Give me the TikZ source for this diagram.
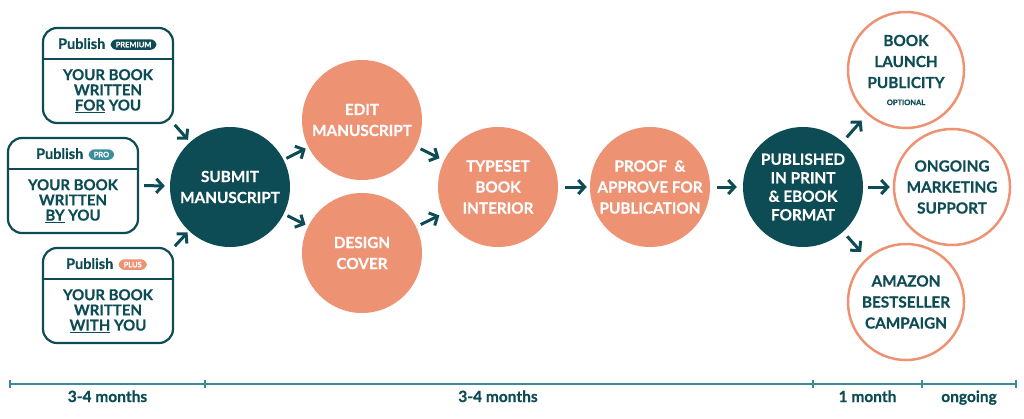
\documentclass[tikz,border=0pt]{standalone}
\usepackage{fontspec}
\setmainfont{Lato}[BoldFeatures={FakeBold=0.5}]
\usetikzlibrary{arrows.meta,calc}
\definecolor{dteal}{HTML}{0E4C55}
\definecolor{salmon}{HTML}{EE9274}
\definecolor{mteal}{HTML}{3A8C9B}
\definecolor{proteal}{HTML}{3D8E9C}
\newcommand\cfnt{\fontsize{15.3}{21}\selectfont\bfseries}
\newcommand\bfnt{\fontsize{15}{15.2}\selectfont\bfseries}
\newcommand\pfnt{\fontsize{14.5}{15}\selectfont\bfseries}
\newcommand\tfnt{\fontsize{7.5}{8}\selectfont\bfseries}
\newcommand\lfnt{\fontsize{15.5}{16}\selectfont\bfseries}
\begin{document}
\begin{tikzpicture}[x=1pt,y=-1pt,
 fillc/.style={circle,minimum size=120pt,inner sep=0pt,fill=#1,text=white,align=center,font=\cfnt},
 ringc/.style={circle,minimum size=116pt,inner sep=0pt,draw=salmon,line width=2.5pt,text=dteal,align=center,font=\cfnt},
 pbox/.style={draw=dteal,line width=2.2pt,rounded corners=14pt,minimum width=130pt,minimum height=95pt,inner sep=0pt},
 divline/.style={draw=dteal,line width=2.2pt},
 body/.style={text=dteal,align=center,font=\bfnt,inner sep=0pt},
 pub/.style={text=dteal,font=\pfnt,inner sep=0pt,anchor=base west},
 tag/.style={fill=#1,text=white,rounded corners=6pt,font=\tfnt,inner xsep=5pt,inner ysep=2.5pt,anchor=west},
 arr/.style={draw=dteal,line width=3pt,-{Straight Barb[length=6.5pt,width=14pt]}},
 tl/.style={draw=mteal,line width=1.6pt},
 tlab/.style={text=dteal,font=\lfnt,anchor=base,inner sep=0pt}
]
\path[fill=white,use as bounding box] (0,0) rectangle (1024,418);

% boxes
\node[pbox] (prem) at (108,75.5) {};
\node[pbox] (pro) at (73,185.5) {};
\node[pbox] (plus) at (108,295.5) {};
\foreach \b in {prem,pro,plus}
  \draw[divline] ($(\b.north west)+(0,32)$) -- ($(\b.north east)+(0,32)$);

\node[pub] (premp) at ($(prem.north west)+(16,22)$) {Publish};
\node[tag=dteal] (premt) at ($(premp.east)+(5,1)$) {PREMIUM};
\node[pub] (prop) at ($(pro.north west)+(29,22)$) {Publish};
\node[tag=proteal] (prot) at ($(prop.east)+(5,1)$) {PRO};
\node[pub] (plusp) at ($(plus.north west)+(24,22)$) {Publish};
\node[tag=salmon] (plust) at ($(plusp.east)+(5,1)$) {PLUS};

\node[body] (premb) at ($(prem.north)+(0,64)$) {YOUR BOOK\\WRITTEN\\\underline{FOR} YOU};
\node[body] (prob) at ($(pro.north)+(0,64)$) {YOUR BOOK\\WRITTEN\\\underline{BY} YOU};
\node[body] (plusb) at ($(plus.north)+(0,64)$) {YOUR BOOK\\WRITTEN\\\underline{WITH} YOU};

% circles
\node[fillc=dteal] (sub) at (230,187) {SUBMIT\\MANUSCRIPT};
\node[fillc=salmon] (edit) at (362,120) {EDIT\\MANUSCRIPT};
\node[fillc=salmon] (cover) at (362,253) {DESIGN\\COVER};
\node[fillc=salmon] (type) at (498,187) {TYPESET\\BOOK\\INTERIOR};
\node[fillc=salmon] (proof) at (650,187) {PROOF\ \ \&\\APPROVE FOR\\PUBLICATION};
\node[fillc=dteal,font=\fontsize{15.3}{18.5}\selectfont\bfseries] (pubd) at (803,187) {PUBLISHED\\IN PRINT\\\& EBOOK\\FORMAT};
\node[ringc] (launch) at (906,70) {BOOK\\LAUNCH\\PUBLICITY\\[-4pt]{\tfnt OPTIONAL}};
\node[ringc] (ongo) at (952,187) {ONGOING\\MARKETING\\SUPPORT};
\node[ringc] (amz) at (906,302) {AMAZON\\BESTSELLER\\CAMPAIGN};

% arrows
\draw[arr,shorten <=1pt,shorten >=3pt] (prem.south east) -- (sub);
\draw[arr,shorten <=5pt,shorten >=5pt] (pro.east) -- (sub);
\draw[arr,shorten <=1pt,shorten >=2pt] (plus.north east) -- (sub);
\draw[arr,shorten <=3pt,shorten >=3pt] (sub) -- (edit);
\draw[arr,shorten <=4pt,shorten >=3pt] (sub) -- (cover);
\draw[arr,shorten <=5pt,shorten >=5pt] (edit) -- (type);
\draw[arr,shorten <=5pt,shorten >=5pt] (cover) -- (type);
\draw[arr,shorten <=7pt,shorten >=3pt] (type) -- (proof);
\draw[arr,shorten <=7pt,shorten >=6pt] (proof) -- (pubd);
\draw[arr,shorten <=6pt,shorten >=8pt] (pubd) -- (launch);
\draw[arr,shorten <=5pt,shorten >=3pt] (pubd) -- (ongo);
\draw[arr,shorten <=6pt,shorten >=8pt] (pubd) -- (amz);

% timeline
\coordinate (t0) at (10,384);
\coordinate (t1) at (205,384);
\coordinate (t2) at (813,384);
\coordinate (t3) at (922,384);
\coordinate (t4) at (1016,384);
\draw[tl] (t0) -- (t4);
\foreach \t in {t0,t1,t2,t3,t4}
  \draw[tl] ($(\t)+(0,-4)$) -- ($(\t)+(0,4)$);
\node[tlab] (l1) at ($($(t0)!0.5!(t1)$)+(0,18)$) {3-4 months};
\node[tlab] (l2) at ($($(t1)!0.5!(t2)$)+(-11,18)$) {3-4 months};
\node[tlab] (l3) at ($($(t2)!0.5!(t3)$)+(0,18)$) {1 month};
\node[tlab] (l4) at ($($(t3)!0.5!(t4)$)+(0,18)$) {ongoing};
\end{tikzpicture}
\end{document}
